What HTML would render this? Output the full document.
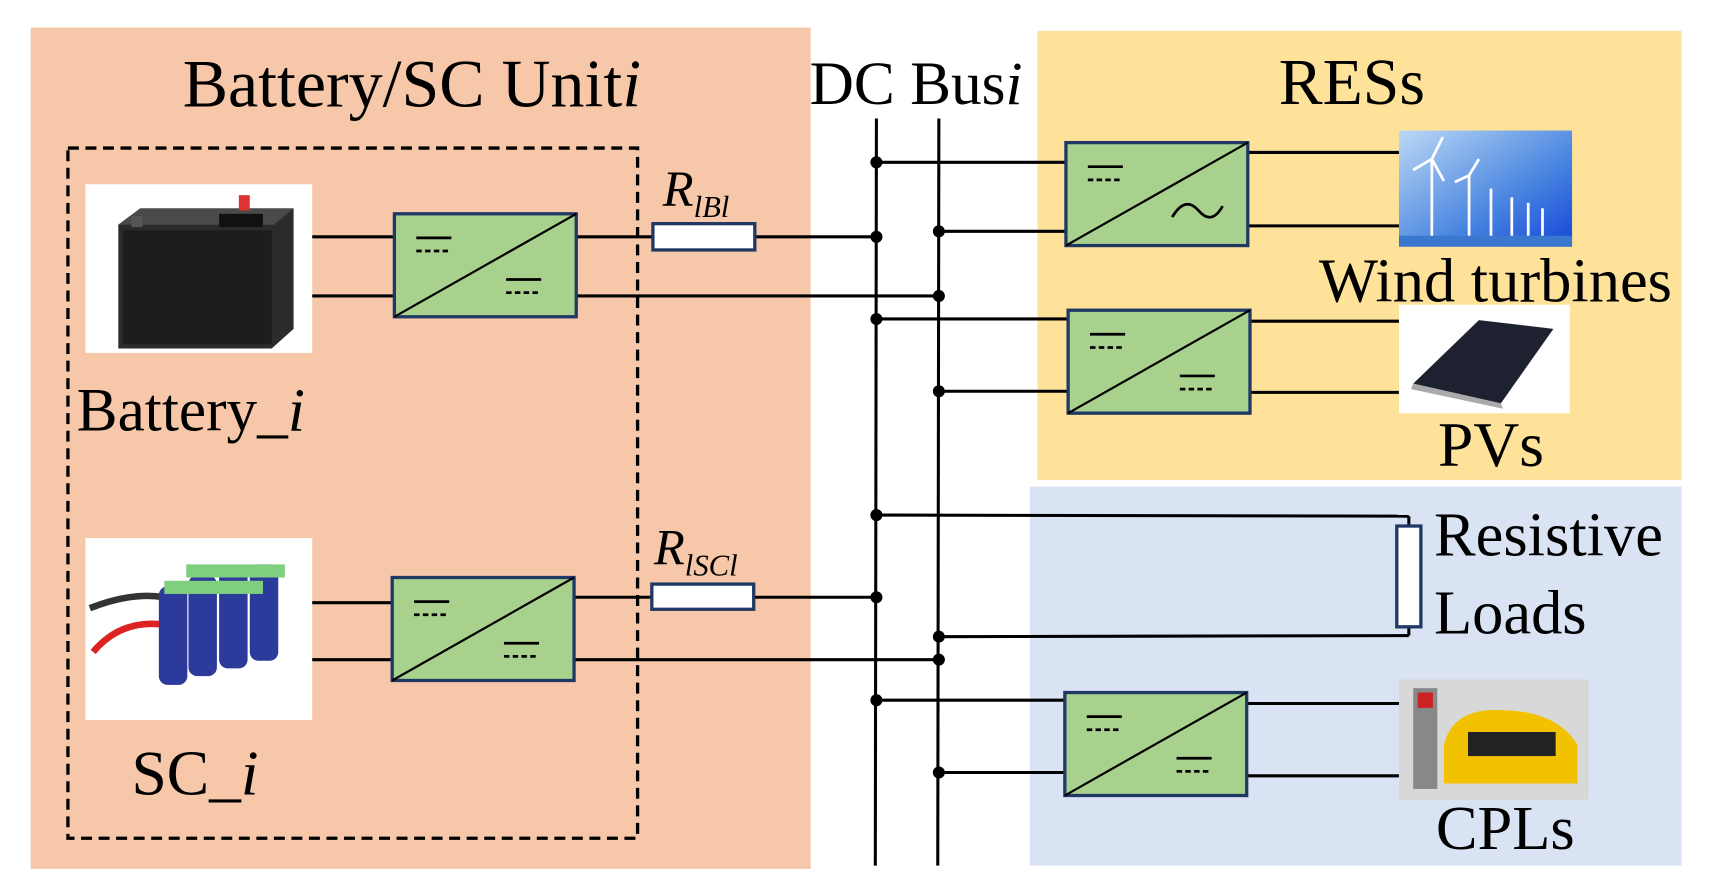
<!DOCTYPE html>
<html><head><meta charset="utf-8"><style>
html,body{margin:0;padding:0;background:#fff;}
svg{display:block;}
text{font-family:"Liberation Serif",serif;fill:#000;}
</style></head><body>
<svg width="1709" height="891" viewBox="0 0 1560 813" xmlns="http://www.w3.org/2000/svg">
<defs>
<linearGradient id="sky" x1="0" y1="0" x2="1" y2="1"><stop offset="0" stop-color="#bcd8f5"/><stop offset="0.6" stop-color="#4a86e0"/><stop offset="1" stop-color="#1446d8"/></linearGradient>
<g id="conv">
<rect x="0" y="0" width="166" height="94" fill="#a9d18e" stroke="#1f3864" stroke-width="3"/>
<line x1="0" y1="94" x2="166" y2="0" stroke="#000" stroke-width="2"/>
<line x1="20" y1="22" x2="52" y2="22" stroke="#000" stroke-width="2.5"/>
<line x1="20" y1="34" x2="52" y2="34" stroke="#000" stroke-width="2.5" stroke-dasharray="5,3"/>
</g>
<g id="dcout">
<line x1="102" y1="60" x2="134" y2="60" stroke="#000" stroke-width="2.5"/>
<line x1="102" y1="72" x2="134" y2="72" stroke="#000" stroke-width="2.5" stroke-dasharray="5,3"/>
</g>
</defs>
<rect width="1560" height="813" fill="#fff"/>
<rect x="28" y="25" width="712" height="768" fill="#f6c8a9"/>
<rect x="947" y="28" width="588" height="410" fill="#fee299"/>
<rect x="940" y="444" width="595" height="346" fill="#dae3f3"/>

<text x="376" y="97" font-size="62" text-anchor="middle">Battery/SC Unit<tspan font-style="italic">i</tspan></text>
<text x="739" y="95" font-size="56">DC Bus<tspan font-style="italic">i</tspan></text>
<text x="1234" y="95" font-size="60" text-anchor="middle">RESs</text>

<rect x="62" y="135" width="520" height="630" fill="none" stroke="#000" stroke-width="3" stroke-dasharray="10,6"/>

<rect x="78" y="168" width="207" height="154" fill="#fff"/>
<path d="M108 205 L128 190 L268 190 L268 300 L248 318 L108 318 Z" fill="#2b2b2b"/>
<path d="M108 205 L128 190 L268 190 L250 205 Z" fill="#4a4a4a"/>
<rect x="112" y="210" width="136" height="104" fill="#1d1d1d"/>
<rect x="200" y="195" width="40" height="12" fill="#111"/>
<rect x="218" y="178" width="10" height="14" fill="#d33"/>
<rect x="120" y="197" width="10" height="10" fill="#555"/>
<text x="70" y="393" font-size="56">Battery_<tspan font-style="italic">i</tspan></text>

<rect x="78" y="491" width="207" height="166" fill="#fff"/>
<path d="M82 555 Q120 540 150 545" stroke="#333" stroke-width="6" fill="none"/>
<path d="M85 595 Q110 565 150 570" stroke="#d22" stroke-width="6" fill="none"/>
<g fill="#2c3a9c">
<rect x="145" y="535" width="26" height="90" rx="8"/><rect x="172" y="525" width="26" height="92" rx="8"/>
<rect x="200" y="520" width="26" height="90" rx="8"/><rect x="228" y="515" width="26" height="88" rx="8"/>
</g>
<g fill="#7fcf7f"><rect x="150" y="530" width="90" height="12"/><rect x="170" y="515" width="90" height="12"/></g>
<text x="120" y="725" font-size="58">SC_<tspan font-style="italic">i</tspan></text>

<g stroke="#000" stroke-width="2.8" fill="none">
<line x1="285" y1="216" x2="360" y2="216"/><line x1="285" y1="270" x2="360" y2="270"/>
<line x1="526" y1="216" x2="596" y2="216"/><line x1="689" y1="216" x2="801" y2="216"/>
<line x1="526" y1="270" x2="857" y2="270"/>
<line x1="285" y1="550" x2="358" y2="550"/><line x1="285" y1="602" x2="358" y2="602"/>
<line x1="524" y1="545" x2="595" y2="545"/><line x1="688" y1="545" x2="801" y2="545"/>
<line x1="524" y1="602" x2="857" y2="602"/>
<line x1="800" y1="108" x2="799" y2="790"/><line x1="857" y1="108" x2="856" y2="790"/>
<line x1="800" y1="148" x2="973" y2="148"/><line x1="857" y1="211" x2="973" y2="211"/>
<line x1="1140" y1="139" x2="1277" y2="139"/><line x1="1140" y1="206" x2="1277" y2="206"/>
<line x1="800" y1="291" x2="975" y2="291"/><line x1="857" y1="357" x2="975" y2="357"/>
<line x1="1141" y1="293" x2="1277" y2="293"/><line x1="1141" y1="358" x2="1277" y2="358"/>
<line x1="800" y1="470" x2="1286" y2="471"/><line x1="1286" y1="471" x2="1286" y2="480"/>
<line x1="857" y1="581" x2="1286" y2="580"/><line x1="1286" y1="572" x2="1286" y2="580"/>
<line x1="800" y1="639" x2="972" y2="639"/><line x1="857" y1="705" x2="972" y2="705"/>
<line x1="1138" y1="642" x2="1277" y2="642"/><line x1="1138" y1="708" x2="1277" y2="708"/>
</g>
<rect x="596" y="204" width="93" height="24" fill="#fff" stroke="#1f3864" stroke-width="3"/>
<rect x="595" y="533" width="93" height="23" fill="#fff" stroke="#1f3864" stroke-width="3"/>
<rect x="1275" y="480" width="22" height="92" fill="#fff" stroke="#1f3864" stroke-width="3"/>
<text x="605" y="188" font-size="46" font-style="italic">R<tspan font-size="28" dy="10">lBl</tspan></text>
<text x="597" y="515" font-size="46" font-style="italic">R<tspan font-size="28" dy="10">lSCl</tspan></text>

<use href="#conv" x="360" y="195"/><use href="#dcout" x="360" y="195"/>
<use href="#conv" x="358" y="527"/><use href="#dcout" x="358" y="527"/>
<use href="#conv" x="973" y="130"/>
<path d="M1070 198 Q1082 178 1094 192 Q1106 206 1116 188" stroke="#000" stroke-width="2.5" fill="none"/>
<use href="#conv" x="975" y="283"/><use href="#dcout" x="975" y="283"/>
<use href="#conv" x="972" y="632"/><use href="#dcout" x="972" y="632"/>

<g fill="#000">
<circle cx="800" cy="148" r="5.5"/><circle cx="857" cy="211" r="5.5"/><circle cx="800" cy="216" r="5.5"/><circle cx="857" cy="270" r="5.5"/>
<circle cx="800" cy="291" r="5.5"/><circle cx="857" cy="357" r="5.5"/><circle cx="800" cy="470" r="5.5"/><circle cx="800" cy="545" r="5.5"/>
<circle cx="857" cy="581" r="5.5"/><circle cx="857" cy="602" r="5.5"/><circle cx="800" cy="639" r="5.5"/><circle cx="857" cy="705" r="5.5"/>
</g>

<rect x="1277" y="119" width="158" height="106" fill="url(#sky)"/>
<rect x="1277" y="215" width="158" height="10" fill="#3a78d0"/>
<g stroke="#fff" stroke-width="2.5">
<line x1="1307" y1="145" x2="1307" y2="215"/><line x1="1341" y1="160" x2="1341" y2="215"/><line x1="1361" y1="172" x2="1361" y2="215"/>
<line x1="1380" y1="180" x2="1380" y2="215"/><line x1="1395" y1="185" x2="1395" y2="215"/><line x1="1408" y1="190" x2="1408" y2="215"/>
<path d="M1307 145 L1317 125 M1307 145 L1290 155 M1307 145 L1318 165 M1341 160 L1350 145 M1341 160 L1328 166"/>
</g>
<text x="1204" y="275" font-size="57">Wind turbines</text>

<rect x="1277" y="278" width="156" height="99" fill="#fff"/>
<path d="M1290 350 L1350 292 L1418 300 L1370 368 Z" fill="#1e2230"/>
<path d="M1290 350 L1370 368 L1372 373 L1288 355 Z" fill="#aaa"/>
<text x="1361" y="425" font-size="58" text-anchor="middle">PVs</text>

<text x="1309" y="507" font-size="57">Resistive</text>
<text x="1309" y="578" font-size="57">Loads</text>

<rect x="1277" y="620" width="173" height="110" fill="#d8d8d8"/>
<rect x="1290" y="628" width="22" height="92" fill="#888"/><rect x="1294" y="632" width="14" height="14" fill="#c22"/>
<path d="M1318 680 Q1325 650 1360 648 Q1420 646 1440 680 L1440 715 L1318 715 Z" fill="#f2c200"/>
<rect x="1340" y="668" width="80" height="22" fill="#222"/>
<text x="1374" y="775" font-size="57" text-anchor="middle">CPLs</text>
</svg>
</body></html>
